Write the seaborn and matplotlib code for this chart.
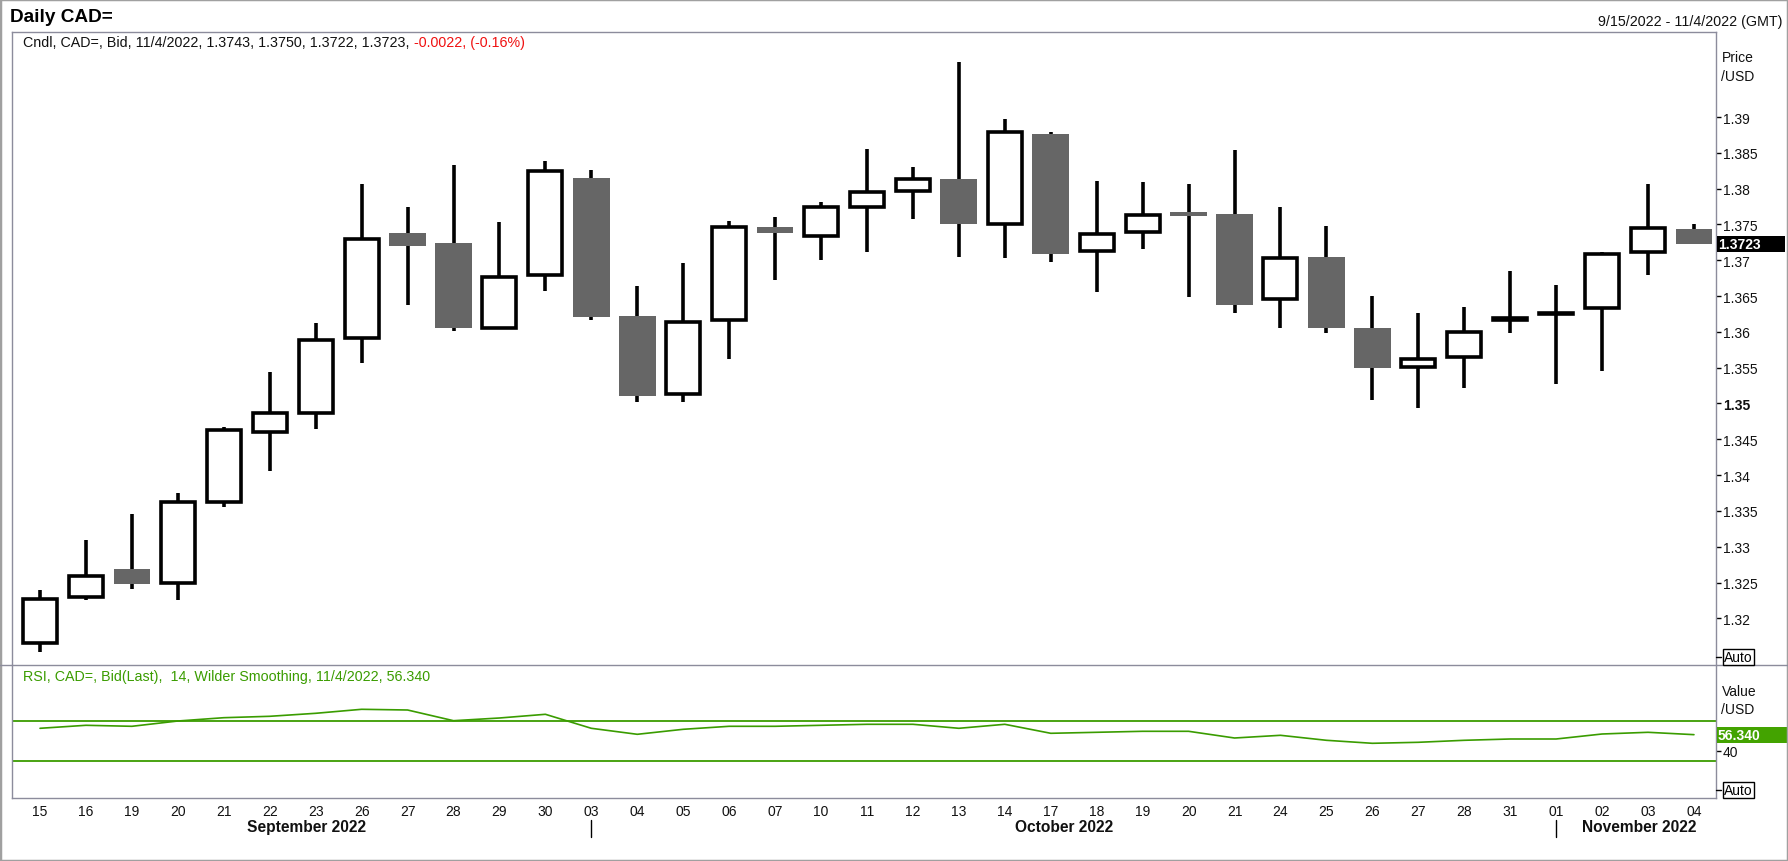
import numpy as np
import pandas as pd
import matplotlib
matplotlib.use("Agg")
import matplotlib.pyplot as plt
import seaborn as sns
from matplotlib.patches import Rectangle
from matplotlib.lines import Line2D
from matplotlib.transforms import blended_transform_factory

# ---------------- data ----------------
day_labels = ["15", "16", "19", "20", "21", "22", "23", "26", "27", "28", "29", "30",
              "03", "04", "05", "06", "07", "10", "11", "12", "13", "14", "17", "18",
              "19", "20", "21", "24", "25", "26", "27", "28", "31",
              "01", "02", "03", "04"]
months = ["September 2022"] * 12 + ["October 2022"] * 21 + ["November 2022"] * 4

opens = [1.3165, 1.3230, 1.3269, 1.3249, 1.3362, 1.3460, 1.3487, 1.3591, 1.3738, 1.3724,
         1.3606, 1.3679, 1.3815, 1.3622, 1.3513, 1.3616, 1.3747, 1.3734, 1.3775, 1.3796,
         1.3813, 1.3751, 1.3876, 1.3713, 1.3739, 1.3767, 1.3764, 1.3646, 1.3704, 1.3606,
         1.3551, 1.3565, 1.3617, 1.3625, 1.3633, 1.3711, 1.3743]
highs = [1.3240, 1.3309, 1.3345, 1.3375, 1.3467, 1.3544, 1.3612, 1.3807, 1.3775, 1.3833,
         1.3754, 1.3839, 1.3826, 1.3664, 1.3696, 1.3755, 1.3760, 1.3781, 1.3855, 1.3830,
         1.3977, 1.3897, 1.3879, 1.3811, 1.3809, 1.3806, 1.3854, 1.3774, 1.3748, 1.3650,
         1.3626, 1.3635, 1.3685, 1.3666, 1.3712, 1.3807, 1.3750]
lows = [1.3153, 1.3225, 1.3241, 1.3225, 1.3356, 1.3406, 1.3464, 1.3557, 1.3637, 1.3601,
        1.3604, 1.3657, 1.3617, 1.3502, 1.3502, 1.3562, 1.3673, 1.3700, 1.3712, 1.3758,
        1.3705, 1.3703, 1.3697, 1.3655, 1.3716, 1.3649, 1.3627, 1.3605, 1.3598, 1.3505,
        1.3493, 1.3521, 1.3599, 1.3527, 1.3545, 1.3679, 1.3722]
closes = [1.3227, 1.3259, 1.3248, 1.3362, 1.3463, 1.3487, 1.3589, 1.3730, 1.3720, 1.3605,
          1.3677, 1.3825, 1.3621, 1.3511, 1.3614, 1.3746, 1.3738, 1.3774, 1.3795, 1.3813,
          1.3750, 1.3879, 1.3709, 1.3737, 1.3763, 1.3762, 1.3638, 1.3703, 1.3606, 1.3550,
          1.3562, 1.3600, 1.3619, 1.3627, 1.3709, 1.3745, 1.3723]
rsi = [62.7, 65.7, 64.7, 70.0, 73.3, 74.7, 77.7, 81.7, 81.0, 70.3, 73.0, 76.7, 62.7,
       56.7, 61.7, 64.7, 64.7, 65.7, 66.7, 66.7, 62.7, 66.7, 57.7, 58.7, 59.7, 59.7,
       53.0, 55.7, 50.7, 47.7, 48.7, 50.7, 52.0, 52.0, 57.0, 58.7, 56.34]
price_ticks = [1.32, 1.325, 1.33, 1.335, 1.34, 1.345, 1.35, 1.355, 1.36, 1.365,
               1.37, 1.375, 1.38, 1.385, 1.39]
rsi_levels = [70, 30]
rsi_ticks = [40]
last_price = 1.3723
last_rsi = 56.34

# ---------------- style ----------------
sns.set_theme(style="white")
plt.rcParams["font.family"] = ["Liberation Sans", "DejaVu Sans"]

W, H = 1788, 862
fig = plt.figure(figsize=(W / 100, H / 100), dpi=100)
fig.patch.set_facecolor("white")


def fx(px):
    return px / W


def fy(py):
    return 1 - py / H


SPINE = "#8c8c9c"
GREEN = "#3a9c00"
GRAY = "#666666"
TXT = 10.3

L, R = 12, 1716
TOP, SEP, BOT = 33, 666, 799
ax = fig.add_axes([fx(L), fy(SEP), fx(R - L), (SEP - TOP) / H])
ax2 = fig.add_axes([fx(L), fy(BOT), fx(R - L), (BOT - SEP) / H])

df = pd.DataFrame({"day": day_labels, "month": months, "open": opens, "high": highs,
                   "low": lows, "close": closes, "rsi": rsi})
df["i"] = np.arange(len(df))
up = df[df["close"] >= df["open"]]
dn = df[df["close"] < df["open"]]

# wicks
ax.vlines(df["i"], df["low"], df["high"], color="black", lw=2.6, zorder=1)
# bodies
ax.bar(up["i"], up["close"] - up["open"], bottom=up["open"], width=0.74,
       facecolor="white", edgecolor="black", linewidth=2.6, zorder=2)
ax.bar(dn["i"], dn["open"] - dn["close"], bottom=dn["close"], width=0.80,
       color=GRAY, linewidth=0, zorder=2)

xlim = (-0.61, 36.48)
ax.set_xlim(*xlim)
ax.set_ylim(1.31348, 1.40187)
ax.set_xticks([])
ax.yaxis.tick_right()
ax.set_yticks(price_ticks)
ax.set_yticklabels([f"{v:g}" for v in price_ticks])
ax.tick_params(axis="y", right=True, left=False, direction="out", length=3.4,
               width=1, color="black", pad=1.5, labelsize=10, labelcolor="#111111")
for lab, v in zip(ax.get_yticklabels(), price_ticks):
    if abs(v - 1.35) < 1e-9:
        lab.set_fontweight("bold")
for s in ["left", "top", "right"]:
    ax.spines[s].set_color(SPINE)
    ax.spines[s].set_linewidth(1)
ax.spines["bottom"].set_visible(False)
ax.set_ylabel("")
ax.set_xlabel("")

# RSI panel
sns.lineplot(data=df, x="i", y="rsi", ax=ax2, color=GREEN, lw=1.2)
for lv in rsi_levels:
    ax2.axhline(lv, color=GREEN, lw=1.3)
ax2.set_xlim(*xlim)
ax2.set_ylim(-7, 126)
ax2.yaxis.tick_right()
ax2.set_yticks(rsi_ticks)
ax2.set_yticklabels([str(t) for t in rsi_ticks])
ax2.tick_params(axis="y", right=True, left=False, direction="out", length=3.4,
                width=1, color="black", pad=1.5, labelsize=10, labelcolor="#111111")
ax2.set_xticks(df["i"])
ax2.set_xticklabels(df["day"])
ax2.tick_params(axis="x", length=0, pad=4, labelsize=10, labelcolor="#111111")
ax2.set_xlabel("")
ax2.set_ylabel("")
for s in ["left", "bottom", "right"]:
    ax2.spines[s].set_color(SPINE)
    ax2.spines[s].set_linewidth(1)
ax2.spines["top"].set_visible(False)

# month labels and separators
bt = blended_transform_factory(ax2.transData, ax2.transAxes)
for m, g in df.groupby("month", sort=False):
    ax2.text(g["i"].mean() + 0.3, -0.218, m, transform=bt, ha="center", va="center",
             fontsize=11.2, fontweight="bold", color="#111111")
    first = g["i"].min()
    if first > 0:
        ax2.plot([first, first], [-0.165, -0.293], transform=bt, color="black",
                 lw=1, clip_on=False)

# separator line across full width
fig.add_artist(Line2D([0, 1], [fy(SEP), fy(SEP)], transform=fig.transFigure,
                      color=SPINE, lw=1))
# outer frame
fig.add_artist(Rectangle((0, 0), 1, 1, transform=fig.transFigure, fill=False,
                         ec="#a0a0a0", lw=2.5))

# texts
fig.text(fx(10), fy(18), "Daily CAD=", fontsize=13.7, fontweight="bold", va="center",
         ha="left", color="black")
fig.text(fx(1783), fy(22), "9/15/2022 - 11/4/2022 (GMT)", fontsize=TXT, va="center",
         ha="right", color="#111111")
t1 = fig.text(fx(23), fy(43), "Cndl, CAD=, Bid, 11/4/2022, 1.3743, 1.3750, 1.3722, 1.3723,",
              fontsize=TXT, va="center", ha="left", color="#111111")
ax.annotate("-0.0022, (-0.16%)", xy=(1, 0.5), xycoords=t1, xytext=(3, 0),
            textcoords="offset points", va="center", ha="left", fontsize=TXT,
            color="#f01010", annotation_clip=False)
fig.text(fx(23), fy(677), "RSI, CAD=, Bid(Last),  14, Wilder Smoothing, 11/4/2022, 56.340",
         fontsize=TXT, va="center", ha="left", color=GREEN)
fig.text(fx(1722), fy(58), "Price", fontsize=10, va="center", ha="left", color="#111111")
fig.text(fx(1721), fy(77), "/USD", fontsize=10, va="center", ha="left", color="#111111")
fig.text(fx(1722), fy(692), "Value", fontsize=10, va="center", ha="left", color="#111111")
fig.text(fx(1721), fy(710), "/USD", fontsize=10, va="center", ha="left", color="#111111")

# "Auto" markers
for py in (658, 791):
    fig.add_artist(Line2D([fx(R), fx(R + 5)], [fy(py), fy(py)], transform=fig.transFigure,
                          color="black", lw=1))
    fig.text(fx(1724), fy(py), "Auto", fontsize=10, va="center", ha="left", color="black",
             bbox=dict(boxstyle="square,pad=0.08", fc="white", ec="black", lw=1))

# last value boxes
bt_main = blended_transform_factory(ax.transAxes, ax.transData)
ax.add_patch(Rectangle((1.0006, last_price - 8 / 7161), 68 / 1704, 16 / 7161,
                       transform=bt_main, fc="black", ec="none", clip_on=False, zorder=5))
ax.text(1.0012, last_price, f"{last_price:.4f}", transform=bt_main, color="white",
        fontweight="bold", fontsize=10, va="center", ha="left", zorder=6, clip_on=False)
bt_rsi = blended_transform_factory(ax2.transAxes, ax2.transData)
ax2.add_patch(Rectangle((1.0006, last_rsi - 8), 72 / 1704, 16, transform=bt_rsi,
                        fc="#43a300", ec="none", clip_on=False, zorder=5))
ax2.text(1.0012, last_rsi, f"{last_rsi:.3f}", transform=bt_rsi, color="white",
         fontweight="bold", fontsize=10, va="center", ha="left", zorder=6, clip_on=False)

fig.savefig("out.png", dpi=100, facecolor="white")
